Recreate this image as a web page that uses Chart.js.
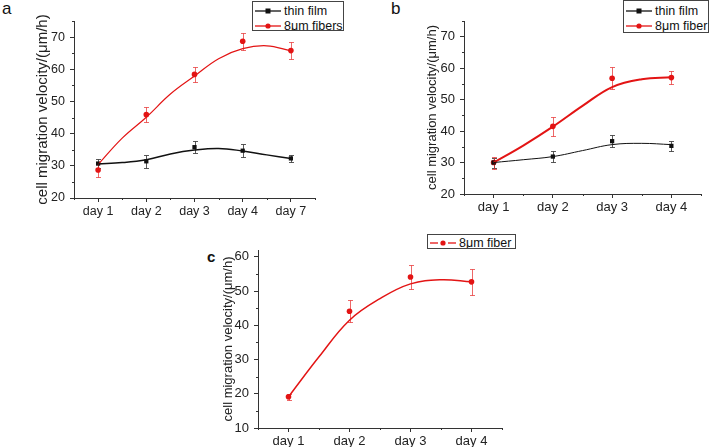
<!DOCTYPE html>
<html>
<head>
<meta charset="utf-8">
<script src="https://cdn.jsdelivr.net/npm/chart.js@4.4.0/dist/chart.umd.min.js"></script>
<style>
  body { margin: 0; background: #fff; width: 710px; height: 447px; position: relative; overflow: hidden; font-family: "Liberation Sans", Arial, sans-serif; }
  canvas { position: absolute; }
  .tag { position: absolute; font-size: 17px; color: #111; line-height: 1; }
  .legend { position: absolute; border: 1px solid #444; background: #fff; font-size: 12.5px; color: #111; overflow: hidden; white-space: nowrap; box-sizing: border-box; }
  .legend .row { height: 15px; display: flex; align-items: center; }
  .legend svg { margin: 0 3px 0 2px; flex: none; }
</style>
</head>
<body>
<div class="tag" style="left:2px;top:0px;">a</div>
<div class="tag" style="left:391px;top:0px;">b</div>
<div class="tag" style="left:207px;top:249px;font-weight:bold;font-size:15px;">c</div>

<canvas id="chartA" width="330" height="225" style="left:0;top:0;"></canvas>
<canvas id="chartB" width="355" height="225" style="left:355px;top:0;"></canvas>
<canvas id="chartC" width="370" height="222" style="left:150px;top:225px;"></canvas>

<div class="legend" id="legA" style="left:252px;top:1px;width:92px;height:30px;padding-top:1px;"></div>
<div class="legend" id="legB" style="left:623px;top:0px;width:86px;height:33px;padding-top:2px;"></div>
<div class="legend" id="legC" style="left:427px;top:234px;width:89px;height:15px;"></div>

<script>
// panel a
const daysA = ["day 1", "day 2", "day 3", "day 4", "day 7"];
const filmA = [30.7, 31.4, 35.8, 34.7, 32.3];
const filmErrA = [1.4, 2.1, 1.9, 2.0, 1.2];
const fiberA = [28.7, 45.9, 58.4, 68.7, 65.8];
const fiberErrA = [2.1, 2.3, 2.3, 2.7, 2.6];
const fitPosA = [1, 1.5, 2, 2.5, 3, 3.5, 4, 4.5, 5];
const filmFitA = [30.6, 31.0, 31.9, 33.7, 34.9, 35.4, 34.6, 33.4, 32.3];
const fiberFitA = [30.4, 38.6, 45.1, 52.3, 57.9, 63.3, 66.4, 67.3, 65.7];

// panel b
const daysB = ["day 1", "day 2", "day 3", "day 4"];
const filmB = [30.0, 31.9, 36.8, 35.3];
const filmErrB = [1.6, 1.8, 1.8, 1.6];
const fiberB = [30.0, 41.5, 56.8, 57.0];
const fiberErrB = [1.9, 3.0, 3.5, 2.1];
const fitPosB = [1, 1.5, 2, 2.5, 3, 3.5, 4];
const filmFitB = [30.0, 30.9, 31.9, 33.8, 35.7, 36.1, 35.7];
const fiberFitB = [30.0, 35.4, 41.4, 48.0, 54.0, 56.5, 57.1];

// panel c
const daysC = ["day 1", "day 2", "day 3", "day 4"];
const fiberC = [19.1, 44.1, 54.1, 52.7];
const fiberErrC = [0.9, 3.2, 3.5, 3.8];
const fitPosC = [1, 1.5, 2, 2.5, 3, 3.5, 4];
const fiberFitC = [19.1, 30.8, 41.5, 47.8, 52.1, 53.3, 52.7];

const yTicksA = [20, 30, 40, 50, 60, 70];
const yTicksB = [20, 30, 40, 50, 60, 70];
const yTicksC = [10, 20, 30, 40, 50, 60];

const yTitle = "cell migration velocity/(\u03bcm/h)";
const RED = "#e31414";
const BLACK = "#111";

Chart.defaults.font.family = "'Liberation Sans', Arial, sans-serif";
Chart.defaults.color = "#222";

const toPoints = (xs, ys) => ys.map((y, i) => ({ x: xs[i], y: y }));
const idx = (arr) => arr.map((d, i) => i + 1);

// error bars drawn through the y scale, under the markers
const errorBars = {
  id: "errorBars",
  beforeDatasetsDraw(chart) {
    const ctx = chart.ctx;
    const yScale = chart.scales.y;
    chart.data.datasets.forEach((ds, i) => {
      if (!ds.errors) return;
      const meta = chart.getDatasetMeta(i);
      ctx.save();
      ctx.strokeStyle = ds.errColor;
      ctx.lineWidth = 1;
      meta.data.forEach((pt, j) => {
        const v = ds.data[j].y;
        const top = Math.round(yScale.getPixelForValue(v + ds.errors[j])) + 0.5;
        const bot = Math.round(yScale.getPixelForValue(v - ds.errors[j])) + 0.5;
        const x = Math.round(pt.x) + 0.5;
        ctx.beginPath();
        ctx.moveTo(x, top); ctx.lineTo(x, bot);
        ctx.moveTo(x - 2.5, top); ctx.lineTo(x + 2.5, top);
        ctx.moveTo(x - 2.5, bot); ctx.lineTo(x + 2.5, bot);
        ctx.stroke();
      });
      ctx.restore();
    });
  }
};

// short minor ticks halfway between the major ones
const minorTicks = {
  id: "minorTicks",
  afterDraw(chart) {
    const ctx = chart.ctx;
    const xs = chart.scales.x, ys = chart.scales.y;
    ctx.save();
    ctx.strokeStyle = "#333";
    ctx.lineWidth = 1;
    ctx.beginPath();
    for (let v = xs.min; v <= xs.max + 0.001; v += 1) {
      const px = Math.round(xs.getPixelForValue(v)) + 0.5;
      ctx.moveTo(px, xs.top); ctx.lineTo(px, xs.top + 2);
    }
    for (let v = ys.ticks[0].value + 5; v <= ys.max + 0.001; v += 10) {
      const py = Math.round(ys.getPixelForValue(v)) + 0.5;
      ctx.moveTo(ys.right, py); ctx.lineTo(ys.right - 2, py);
    }
    ctx.stroke();
    ctx.restore();
  }
};

function makeChart(id, p) {
  const ctx = document.getElementById(id).getContext("2d");
  return new Chart(ctx, {
    type: "scatter",
    data: { datasets: p.datasets },
    options: {
      responsive: false,
      animation: false,
      devicePixelRatio: 1,
      layout: { padding: { top: p.padTop, right: p.padRight, left: 0, bottom: 0 } },
      plugins: { legend: { display: false }, tooltip: { enabled: false } },
      scales: {
        x: {
          type: "linear",
          min: 0.5,
          max: p.days.length + 0.5,
          afterBuildTicks: (s) => { s.ticks = p.days.map((d, i) => ({ value: i + 1 })); },
          afterFit: (s) => { s.height = p.xHeight; },
          ticks: { autoSkip: false, maxRotation: 0, padding: 2, color: "#222", font: { size: p.tickSize }, callback: (v) => p.days[v - 1] },
          grid: { drawOnChartArea: false, drawTicks: true, tickLength: 4, color: "#333" },
          border: { color: "#333" }
        },
        y: {
          min: p.yMin,
          max: p.yMax,
          afterBuildTicks: (s) => { s.ticks = p.yTicks.map((v) => ({ value: v })); },
          afterFit: (s) => { s.width = p.yWidth; },
          ticks: { padding: 5, color: "#222", font: { size: p.tickSize } },
          grid: { drawOnChartArea: false, drawTicks: true, tickLength: 4, color: "#333" },
          border: { color: "#333" },
          title: { display: true, text: yTitle, color: "#222", font: { size: p.titleSize }, padding: { top: p.titlePad, bottom: 0 } }
        }
      }
    },
    plugins: [errorBars, minorTicks]
  });
}

const fitSet = (xs, ys, color, w) => ({
  data: toPoints(xs, ys), showLine: true, tension: 0.4, pointRadius: 0,
  borderColor: color, borderWidth: w, backgroundColor: color
});
const markSet = (days, ys, errs, color, errColor, style) => ({
  data: toPoints(idx(days), ys), errors: errs, errColor: errColor,
  showLine: false, pointStyle: style, pointRadius: style === "rect" ? 3 : 2.8,
  backgroundColor: color, borderColor: color, borderWidth: 0
});

makeChart("chartA", {
  days: daysA, yMin: 20, yMax: 75, yTicks: yTicksA,
  padTop: 21, padRight: 15, yWidth: 74, xHeight: 27, tickSize: 12.5, titleSize: 15, titlePad: 34,
  datasets: [
    fitSet(fitPosA, filmFitA, BLACK, 1.5),
    fitSet(fitPosA, fiberFitA, RED, 1.2),
    markSet(daysA, filmA, filmErrA, BLACK, "rgba(60,60,60,0.85)", "rect"),
    markSet(daysA, fiberA, fiberErrA, RED, "rgba(230,40,40,0.7)", "circle")
  ]
});

makeChart("chartB", {
  days: daysB, yMin: 20, yMax: 75, yTicks: yTicksB,
  padTop: 21, padRight: 9, yWidth: 109, xHeight: 31, tickSize: 13, titleSize: 13, titlePad: 70,
  datasets: [
    fitSet(fitPosB, filmFitB, BLACK, 1),
    fitSet(fitPosB, fiberFitB, RED, 2),
    markSet(daysB, filmB, filmErrB, BLACK, "rgba(60,60,60,0.85)", "rect"),
    markSet(daysB, fiberB, fiberErrB, RED, "rgba(230,40,40,0.7)", "circle")
  ]
});

makeChart("chartC", {
  days: daysC, yMin: 10, yMax: 62, yTicks: yTicksC,
  padTop: 25, padRight: 18, yWidth: 108, xHeight: 19, tickSize: 13, titleSize: 13, titlePad: 71,
  datasets: [
    fitSet(fitPosC, fiberFitC, RED, 1.5),
    markSet(daysC, fiberC, fiberErrC, RED, "rgba(230,40,40,0.7)", "circle")
  ]
});

// legends
function sample(color, style, gap) {
  const mk = style === "rect"
    ? `<rect x="10.5" y="2.5" width="5" height="5" fill="${color}"/>`
    : `<circle cx="13" cy="5" r="2.6" fill="${color}"/>`;
  const ln = gap
    ? `<line x1="0" y1="5" x2="8" y2="5" stroke="${color}" stroke-width="1.3"/><line x1="18" y1="5" x2="26" y2="5" stroke="${color}" stroke-width="1.3"/>`
    : `<line x1="0" y1="5" x2="26" y2="5" stroke="${color}" stroke-width="1.3"/>`;
  return `<svg width="26" height="10">${ln}${mk}</svg>`;
}
function buildLegend(id, names, colors, styles, gap) {
  const el = document.getElementById(id);
  names.forEach((n, i) => {
    const row = document.createElement("div");
    row.className = "row";
    row.innerHTML = sample(colors[i], styles[i], gap);
    const t = document.createElement("span");
    t.textContent = n;
    row.appendChild(t);
    el.appendChild(row);
  });
}
buildLegend("legA", ["thin film", "8\u03bcm fibers"], [BLACK, RED], ["rect", "circle"], false);
buildLegend("legB", ["thin film", "8\u03bcm fiber"], [BLACK, RED], ["rect", "circle"], false);
buildLegend("legC", ["8\u03bcm fiber"], [RED], ["circle"], true);
</script>
</body>
</html>
